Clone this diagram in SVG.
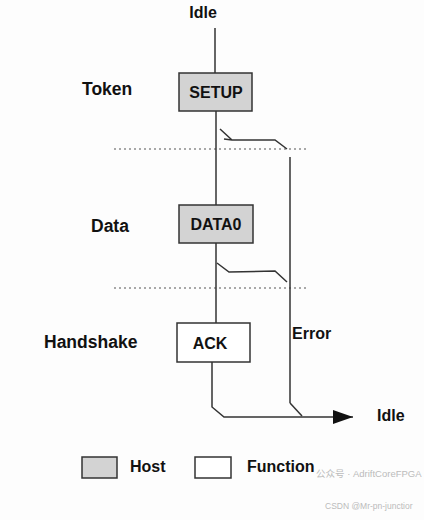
<svg xmlns="http://www.w3.org/2000/svg" width="424" height="520" viewBox="0 0 424 520">
<defs>
<style>
.t{font-family:"Liberation Sans",Arial,sans-serif;font-weight:bold;fill:#111}
.lbl{font-size:17.5px}
.in{font-size:16px;text-anchor:middle}
.host{fill:#d3d3d3;stroke:#333;stroke-width:1.5}
.func{fill:#fff;stroke:#333;stroke-width:1.5}
.ln{fill:none;stroke:#333;stroke-width:1.5}
.dot{fill:none;stroke:#555;stroke-width:1.2;stroke-dasharray:2 3}
.wm{font-family:"Liberation Sans","Noto Sans CJK SC",sans-serif;fill:#bbb}
</style>
<marker id="arr" markerWidth="20" markerHeight="14" refX="20" refY="7" orient="auto" markerUnits="userSpaceOnUse">
<path d="M0,0 L20,7 L0,14 Z" fill="#111"/>
</marker>
</defs>
<rect width="424" height="520" fill="#fdfdfd"/>
<g id="labels">
<text class="t in" x="203" y="18">Idle</text>
<text class="t lbl" x="82" y="95">Token</text>
<text class="t lbl" x="91" y="232">Data</text>
<text class="t lbl" x="44" y="348">Handshake</text>
<text class="t" font-size="16" x="292" y="339">Error</text>
<text class="t" font-size="16" x="377" y="421">Idle</text>
</g>
<g id="connectors">
<line class="dot" x1="114" y1="149" x2="308" y2="149"/>
<line class="dot" x1="114" y1="288" x2="308" y2="288"/>
<line class="ln" x1="215" y1="28" x2="215" y2="73"/>
<line class="ln" x1="216" y1="111" x2="216" y2="205"/>
<line class="ln" x1="216" y1="243" x2="216" y2="323"/>
<path class="ln" d="M220,129 L232,140 M224,139 L232,140 L275,140 L287,149"/>
<path class="ln" d="M217,263 L229,272 L275,271 L287,282"/>
<line class="ln" x1="290" y1="157" x2="290" y2="403"/>
<path class="ln" d="M290,403 L302,416"/>
<path class="ln" d="M212,362 L212,407 L224,417 L353,417" marker-end="url(#arr)"/>
</g>
<g id="setup">
<rect class="host" x="179" y="73" width="73" height="38"/>
<text class="t in" x="216" y="98">SETUP</text>
</g>
<g id="data0">
<rect class="host" x="179" y="205" width="74" height="38"/>
<text class="t in" x="216" y="230">DATA0</text>
</g>
<g id="ack">
<rect class="func" x="177" y="323" width="73" height="39"/>
<text class="t in" x="210" y="349">ACK</text>
</g>
<g id="legend-host">
<rect class="host" x="82" y="457" width="35" height="21"/>
<text class="t" font-size="16" x="130" y="472">Host</text>
</g>
<g id="legend-function">
<rect class="func" x="195" y="457" width="36" height="21"/>
<text class="t" font-size="16" x="247" y="472">Function</text>
</g>
<g id="watermark">
<text class="wm" font-size="9.5" x="316" y="477">公众号 · AdriftCoreFPGA</text>
<text class="wm" font-size="8.5" x="325" y="509">CSDN @Mr-pn-junctior</text>
</g>
</svg>
